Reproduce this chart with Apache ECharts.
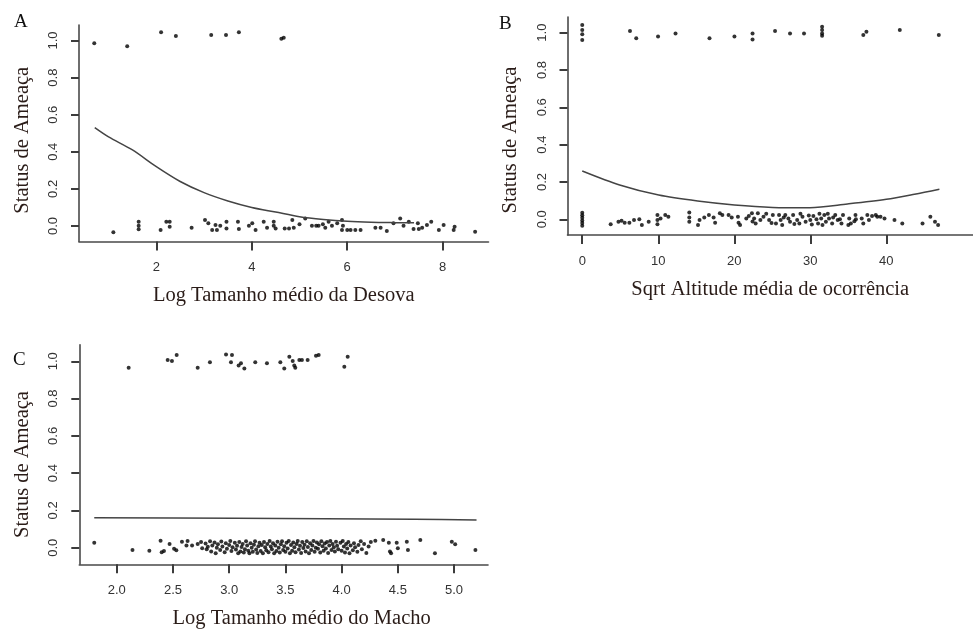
<!DOCTYPE html>
<html><head><meta charset="utf-8">
<script src="https://cdn.jsdelivr.net/npm/echarts@6/dist/echarts.min.js"></script>
<style>html,body{margin:0;padding:0;background:#fff}#c{width:973px;height:631px}</style>
</head><body><div id="c"></div>
<script>
// ---------- Panel A: Log Tamanho médio da Desova ----------
const spawnHigh = [[0.70,0.985],[1.39,0.969],[2.10,1.044],[2.41,1.024],[3.15,1.030],[3.46,1.030],[3.73,1.044],[4.62,1.010],[4.67,1.015]];
const spawnLow = [[1.10,-0.034],[1.63,0.023],[1.63,0.002],[1.63,-0.018],[2.09,-0.022],[2.21,0.023],[2.28,0.023],[2.28,-0.004],[2.74,-0.009],[3.02,0.033],[3.09,0.015],[3.24,0.005],[3.17,-0.022],[3.27,-0.022],[3.34,0.002],[3.47,0.023],[3.47,-0.013],[3.71,0.023],[3.73,-0.016],[3.94,0.002],[4.01,0.015],[4.08,-0.022],[4.25,0.023],[4.32,-0.009],[4.46,0.023],[4.46,0.002],[4.50,-0.013],[4.69,-0.013],[4.78,-0.013],[4.88,-0.009],[4.85,0.033],[5.00,0.009],[5.12,0.041],[5.26,0.002],[5.35,0.002],[5.40,0.002],[5.49,0.009],[5.54,-0.009],[5.61,0.023],[5.68,0.002],[5.79,0.015],[5.89,0.033],[5.91,0.002],[5.89,-0.022],[6.00,-0.022],[6.07,-0.022],[6.17,-0.022],[6.28,-0.022],[6.59,-0.009],[6.70,-0.009],[6.83,-0.027],[6.97,0.015],[7.11,0.041],[7.18,0.002],[7.29,0.023],[7.39,-0.016],[7.48,0.015],[7.50,-0.016],[7.57,-0.009],[7.67,0.005],[7.76,0.023],[7.92,-0.022],[8.02,0.005],[8.23,-0.022],[8.25,-0.004],[8.68,-0.031]];
const spawnCurveX = [0.71,1.0,1.5,2.0,2.5,3.0,3.5,4.0,4.5,5.0,5.5,6.0,6.5,7.0,7.4];
const spawnCurveY = [0.53,0.48,0.41,0.32,0.24,0.18,0.135,0.10,0.075,0.05,0.035,0.025,0.02,0.018,0.017];
const spawnTicks = [2,4,6,8];

// ---------- Panel B: Sqrt Altitude média de ocorrência ----------
const altHigh = [[0,1.041],[0,1.014],[0,0.991],[0,0.961],[6.28,1.009],[7.10,0.970],[9.97,0.979],[12.27,0.996],[16.74,0.970],[20.02,0.979],[22.40,0.996],[22.40,0.964],[25.36,1.009],[27.33,0.996],[29.17,0.996],[31.55,1.032],[31.55,1.014],[31.55,0.996],[31.55,0.984],[36.97,0.988],[37.38,1.005],[41.77,1.014],[46.90,0.988]];
const altLow = [[0,0.035],[0,0.022],[0,0.008],[0,-0.006],[0,-0.020],[0,-0.034],[3.74,-0.026],[4.76,-0.013],[5.17,-0.008],[5.58,-0.019],[6.20,-0.019],[6.81,-0.004],[7.51,0.000],[7.84,-0.030],[8.74,-0.013],[9.89,0.023],[9.89,-0.004],[9.89,-0.026],[10.30,0.005],[10.92,0.023],[11.33,0.014],[14.08,0.036],[14.08,0.010],[14.08,-0.013],[15.23,-0.030],[15.43,-0.004],[16.05,0.010],[16.66,0.023],[17.28,0.010],[17.48,-0.019],[18.10,0.032],[18.43,0.023],[19.25,0.023],[19.66,0.010],[20.48,0.014],[20.56,-0.019],[20.76,-0.030],[21.58,0.005],[21.91,0.018],[22.32,0.032],[22.61,0.005],[22.81,-0.022],[23.10,0.032],[23.43,-0.004],[23.84,0.014],[24.58,-0.004],[25.07,0.023],[25.48,-0.022],[25.89,0.023],[26.10,-0.004],[26.30,-0.030],[26.71,0.023],[27.12,0.005],[27.33,-0.013],[27.74,0.023],[28.27,-0.004],[28.56,-0.022],[28.97,0.014],[29.38,-0.013],[30.00,-0.004],[30.40,0.018],[30.81,0.000],[31.02,-0.022],[31.43,0.005],[31.84,0.023],[32.05,-0.013],[32.46,0.005],[32.87,-0.022],[33.28,0.023],[33.60,-0.004],[34.10,-0.022],[34.30,0.023],[35.12,0.005],[35.33,-0.022],[35.94,0.023],[36.76,0.005],[36.97,-0.022],[37.50,0.023],[37.71,-0.004],[38.12,0.018],[38.61,0.023],[38.81,0.014],[39.23,0.014],[39.76,0.005],[41.07,-0.004],[42.10,-0.022],[44.76,-0.022],[45.79,0.014],[46.40,-0.013],[46.81,-0.030],[22.4,-0.012],[24.2,0.030],[24.9,-0.020],[26.5,0.010],[27.9,-0.025],[28.7,0.030],[29.8,0.020],[30.2,-0.028],[31.2,0.030],[31.6,-0.030],[32.3,0.030],[33.0,0.010],[33.9,0.000],[35.0,-0.030],[35.8,-0.010],[36.0,0.000]];
const altCurveX = [0,4.92,10.06,15.18,20.02,25.03,29.95,34.88,40.0,43.7,46.98];
const altCurveY = [0.259,0.184,0.130,0.098,0.077,0.064,0.062,0.082,0.107,0.134,0.161];
const altTicks = [0,10,20,30,40];

// ---------- Panel C: Log Tamanho médio do Macho ----------
const maleHigh = [[2.106,0.966],[2.453,1.007],[2.491,1.002],[2.533,1.034],[2.720,0.966],[2.829,0.995],[2.972,1.037],[3.025,1.034],[3.016,0.995],[3.084,0.977],[3.105,0.989],[3.135,0.962],[3.232,0.995],[3.336,0.989],[3.455,0.995],[3.490,0.962],[3.535,1.025],[3.565,1.002],[3.579,0.977],[3.588,0.966],[3.624,1.007],[3.647,1.007],[3.698,1.007],[3.772,1.030],[3.796,1.034],[4.024,0.971],[4.054,1.025]];
const maleLow = [[1.80,0.027],[2.14,-0.012],[2.29,-0.016],[2.39,0.037],[2.40,-0.025],[2.42,-0.018],[2.47,0.020],[2.51,-0.005],[2.53,-0.014],[2.58,0.032],[2.62,0.012],[2.63,0.036],[2.67,0.012],[2.72,0.020],[2.75,0.030],[2.76,-0.003],
[2.79,0.022],[2.80,-0.008],[2.81,0.005],[2.83,0.035],[2.84,-0.020],[2.85,0.012],[2.87,0.028],[2.88,-0.030],[2.89,0.000],[2.90,0.018],[2.92,-0.012],[2.93,0.033],[2.94,0.006],[2.96,-0.024],[2.97,0.024],[2.98,-0.005],[3.00,0.015],[3.01,0.036],[3.02,-0.018],[3.03,0.002],[3.05,0.026],[3.06,-0.010],[3.07,0.010],[3.08,-0.030],[3.09,0.030],[3.10,-0.020],[3.11,0.004],[3.12,0.020],[3.13,-0.026],[3.14,-0.008],[3.15,0.034],[3.16,0.012],[3.17,-0.016],[3.18,-0.030],[3.19,0.024],[3.20,0.000],[3.21,-0.022],[3.22,0.016],[3.23,0.034],[3.24,-0.010],[3.25,-0.028],[3.26,0.008],[3.27,0.026],[3.28,-0.018],[3.29,0.014],[3.30,-0.030],[3.31,0.030],[3.32,0.002],[3.33,-0.014],[3.34,0.020],[3.35,-0.024],[3.36,0.036],[3.37,0.006],[3.38,-0.008],[3.39,0.024],[3.40,-0.030],[3.41,0.012],[3.42,-0.018],[3.43,0.032],[3.44,0.000],[3.45,-0.026],[3.46,0.018],[3.47,0.034],[3.48,-0.012],[3.49,0.008],[3.50,-0.022],[3.51,0.026],[3.52,-0.004],[3.53,0.036],[3.54,-0.030],[3.55,0.014],[3.56,-0.016],[3.57,0.028],[3.58,0.002],[3.59,-0.024],[3.60,0.020],[3.61,0.036],[3.62,-0.010],[3.63,0.010],[3.64,-0.028],[3.65,0.030],[3.66,-0.002],[3.67,0.016],[3.68,-0.020],[3.69,0.034],[3.70,0.004],[3.71,-0.030],[3.72,0.024],[3.73,-0.012],[3.74,0.012],[3.75,0.036],[3.76,-0.022],[3.77,0.000],[3.78,0.028],[3.79,-0.006],[3.80,0.018],[3.81,-0.026],[3.82,0.034],[3.83,0.008],[3.84,-0.016],[3.85,0.022],[3.86,-0.004],[3.87,0.030],[3.88,-0.028],[3.89,0.012],[3.90,0.036],[3.91,-0.012],[3.92,0.020],[3.93,0.002],[3.94,-0.020],[3.95,0.032],[3.96,0.010],[3.97,-0.008],[3.99,0.026],[4.00,-0.016],[4.01,0.036],[4.02,0.006],[4.03,-0.026],[4.04,0.020],[4.05,-0.004],[4.06,0.030],[4.07,-0.030],[4.08,0.012],[4.10,-0.014],[4.11,0.024],[4.12,0.002],[4.14,-0.022],[4.15,0.014],[4.17,0.034],[4.18,-0.008],[4.20,0.020],[4.22,-0.028],[4.24,0.006],[4.26,0.030],
[4.30,0.037],[4.37,0.041],[4.42,0.027],[4.43,-0.021],[4.44,-0.030],[4.49,0.027],[4.50,-0.003],[4.58,0.032],[4.59,-0.012],[4.70,0.041],[4.83,-0.030],[4.98,0.032],[5.01,0.018],[5.19,-0.012]];
const maleCurveX = [1.80,3.05,4.65,5.20];
const maleCurveY = [0.161,0.158,0.152,0.149];
const maleTicks = [2.0,2.5,3.0,3.5,4.0,4.5,5.0];

const yTicks = [0,0.2,0.4,0.6,0.8,1.0];
const yTitle = 'Status de Ameaça';
const xTitles = ['Log Tamanho médio da Desova','Sqrt Altitude média de ocorrência','Log Tamanho médio do Macho'];
const panelLetters = ['A','B','C'];

const xRanges = [[0.38, 8.96], [-1.94, 51.4], [1.667, 5.302]];
const yRanges = [[-0.083, 1.083], [-0.084, 1.084], [-0.089, 1.089]];
const xTickSets = [spawnTicks, altTicks, maleTicks];
const xDigits = [0, 0, 1];

const serif = "'Liberation Serif','DejaVu Serif',serif";
const sans = "'Liberation Sans',Arial,sans-serif";
const axCol = '#4a4a4a';
const tickCol = '#3c3c3c';
const txtCol = '#2a1c18';

function pairs(xs, ys){ return xs.map((x,i)=>[x, ys[i]]); }

function xAx(idx, padL){
  const ticks = xTickSets[idx], d = xDigits[idx];
  return {
    type:'value', gridIndex:idx, min:xRanges[idx][0], max:xRanges[idx][1],
    axisLine:{show:true, onZero:false, lineStyle:{color:axCol, width:1.6}},
    axisTick:{show:true, length:9, customValues:ticks, lineStyle:{color:tickCol, width:2}},
    axisLabel:{customValues:ticks, margin:20, color:'#333', fontFamily:sans, fontSize:13,
      formatter:v=>v.toFixed(d)},
    splitLine:{show:false},
    name:xTitles[idx], nameLocation:'middle', nameGap:44,
    nameTextStyle:{fontFamily:serif, fontSize:20.5, color:txtCol, padding:[0,0,0,padL||0]}
  };
}
function yAx(idx, padR){
  return {
    type:'value', gridIndex:idx, min:yRanges[idx][0], max:yRanges[idx][1],
    axisLine:{show:true, onZero:false, lineStyle:{color:axCol, width:1.6}},
    axisTick:{show:true, length:8, customValues:yTicks, lineStyle:{color:tickCol, width:2}},
    axisLabel:{customValues:yTicks, rotate:90, margin:19, color:'#333', fontFamily:sans, fontSize:13,
      formatter:v=>v.toFixed(1)},
    splitLine:{show:false},
    name:yTitle, nameLocation:'middle', nameGap:46,
    nameTextStyle:{fontFamily:serif, fontSize:20.5, color:txtCol, padding:[0,padR||0,0,0]}
  };
}
function pts(idx, data){
  return {type:'scatter', xAxisIndex:idx, yAxisIndex:idx, data:data, symbol:'circle', symbolSize:4,
    itemStyle:{color:'#000'}, silent:true};
}
function crv(idx, data){
  return {type:'line', xAxisIndex:idx, yAxisIndex:idx, data:data, showSymbol:false, smooth:0.3,
    lineStyle:{color:'#444', width:1.5}, silent:true};
}

const chart = echarts.init(document.getElementById('c'), null, {renderer:'canvas'});
chart.setOption({
  animation:false,
  backgroundColor:'#fff',
  title:[
    {text:panelLetters[0], left:9, top:8, textStyle:{fontFamily:serif, fontSize:19, fontWeight:'normal', color:'#111'}},
    {text:panelLetters[1], left:494, top:10, textStyle:{fontFamily:serif, fontSize:19, fontWeight:'normal', color:'#111'}},
    {text:panelLetters[2], left:8, top:346, textStyle:{fontFamily:serif, fontSize:19, fontWeight:'normal', color:'#111'}}
  ],
  grid:[
    {left:79, top:25.1, width:409.5, height:216.3},
    {left:567.5, top:17, width:433.5, height:218},
    {left:79.3, top:344.7, width:408.7, height:219.6}
  ],
  xAxis:[ xAx(0), xAx(1), xAx(2, 36) ],
  yAxis:[ yAx(0, 14), yAx(1, 28), yAx(2, 20) ],
  series:[
    pts(0, spawnHigh), pts(0, spawnLow), crv(0, pairs(spawnCurveX, spawnCurveY)),
    pts(1, altHigh), pts(1, altLow), crv(1, pairs(altCurveX, altCurveY)),
    pts(2, maleHigh), pts(2, maleLow), crv(2, pairs(maleCurveX, maleCurveY))
  ]
});
</script></body></html>
